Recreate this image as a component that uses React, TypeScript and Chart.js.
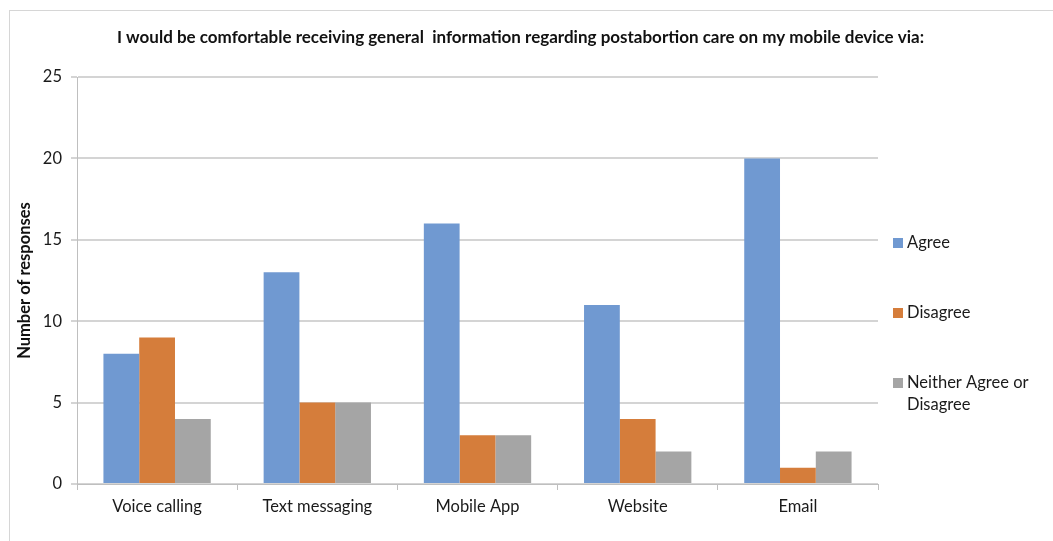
import React, { useEffect, useRef } from "react";
import { Chart, registerables } from "chart.js";

Chart.register(...registerables);

const titleText =
  "I would be comfortable receiving general  information regarding postabortion care on my mobile device via:";
const categories = ["Voice calling", "Text messaging", "Mobile App", "Website", "Email"];
const seriesNames = ["Agree", "Disagree", "Neither Agree or Disagree"];
const legendLines = [["Agree"], ["Disagree"], ["Neither Agree or", "Disagree"]];
const agree = [8, 13, 16, 11, 20];
const disagree = [9, 5, 3, 4, 1];
const neither = [4, 5, 3, 2, 2];
const colors = ["#7099d1", "#d57d3b", "#a5a5a5"];
const yTicks = [0, 5, 10, 15, 20, 25];

const FONT = "Lato, 'Open Sans', sans-serif";
const W = 1043;
const H = 530;

const titlePlugin = {
  id: "customTitle",
  afterDraw(chart: any) {
    const ctx = chart.ctx;
    ctx.save();
    ctx.font = `bold 17px ${FONT}`;
    ctx.fillStyle = "#111";
    ctx.textAlign = "center";
    ctx.textBaseline = "middle";
    ctx.fillText(titleText, chart.width / 2 - 11, 27);
    ctx.restore();
  },
};

const legendPlugin = {
  id: "customLegend",
  afterDraw(chart: any) {
    const ctx = chart.ctx;
    const area = chart.chartArea;
    ctx.save();
    ctx.font = `16.5px ${FONT}`;
    ctx.textBaseline = "middle";
    ctx.textAlign = "left";
    const x0 = area.right + 15;
    legendLines.forEach((lines, i) => {
      const y = area.top + 166 + i * 70;
      ctx.fillStyle = chart.data.datasets[i].backgroundColor;
      ctx.fillRect(x0, y - 5, 10, 10);
      ctx.fillStyle = "#1a1a1a";
      lines.forEach((ln, j) => ctx.fillText(ln, x0 + 14, y + j * 22));
    });
    ctx.restore();
  },
};

export default function App() {
  const ref = useRef<HTMLCanvasElement | null>(null);
  useEffect(() => {
    document.body.style.margin = "0";
    document.body.style.overflow = "hidden";
    const chart = new Chart(ref.current as HTMLCanvasElement, {
      type: "bar",
      data: {
        labels: categories,
        datasets: [agree, disagree, neither].map((d, i) => ({
          label: seriesNames[i],
          data: d,
          backgroundColor: colors[i],
          borderWidth: 0,
          categoryPercentage: 0.67,
          barPercentage: 1,
        })),
      },
      plugins: [titlePlugin, legendPlugin],
      options: {
        responsive: false,
        animation: false,
        layout: { padding: { top: 66, right: 175, left: 0, bottom: 0 } },
        plugins: { legend: { display: false }, tooltip: { enabled: false }, title: { display: false } },
        scales: {
          x: {
            grid: {
              offset: true,
              drawOnChartArea: false,
              color: "#bfbfbf",
              tickLength: 6,
            },
            border: { color: "#bfbfbf", width: 1 },
            ticks: { color: "#1a1a1a", font: { family: FONT, size: 16.5 }, padding: 7 },
            afterFit(scale: any) {
              scale.height = H - 473;
            },
          },
          y: {
            min: 0,
            max: 25,
            afterBuildTicks(scale: any) {
              scale.ticks = yTicks.map((v) => ({ value: v }));
            },
            grid: { color: "#d4d4d4", lineWidth: 2, tickLength: 6 },
            border: { color: "#bfbfbf", width: 1 },
            ticks: { color: "#1a1a1a", font: { family: FONT, size: 16.5 }, padding: 9 },
            title: {
              display: true,
              text: "Number of responses",
              color: "#111",
              font: { family: FONT, size: 16.5, weight: "bold" },
              padding: { top: 5, bottom: 0 },
            },
            afterFit(scale: any) {
              scale.width = 67;
            },
          },
        },
      },
    } as any);
    return () => chart.destroy();
  }, []);
  return (
    <div
      style={{
        position: "absolute",
        left: 9,
        top: 10,
        width: W + 1,
        height: H + 1,
        borderTop: "1px solid #d6d6d6",
        borderLeft: "1px solid #d6d6d6",
        background: "#fff",
      }}
    >
      <canvas ref={ref} width={W} height={H} style={{ display: "block" }} />
    </div>
  );
}
